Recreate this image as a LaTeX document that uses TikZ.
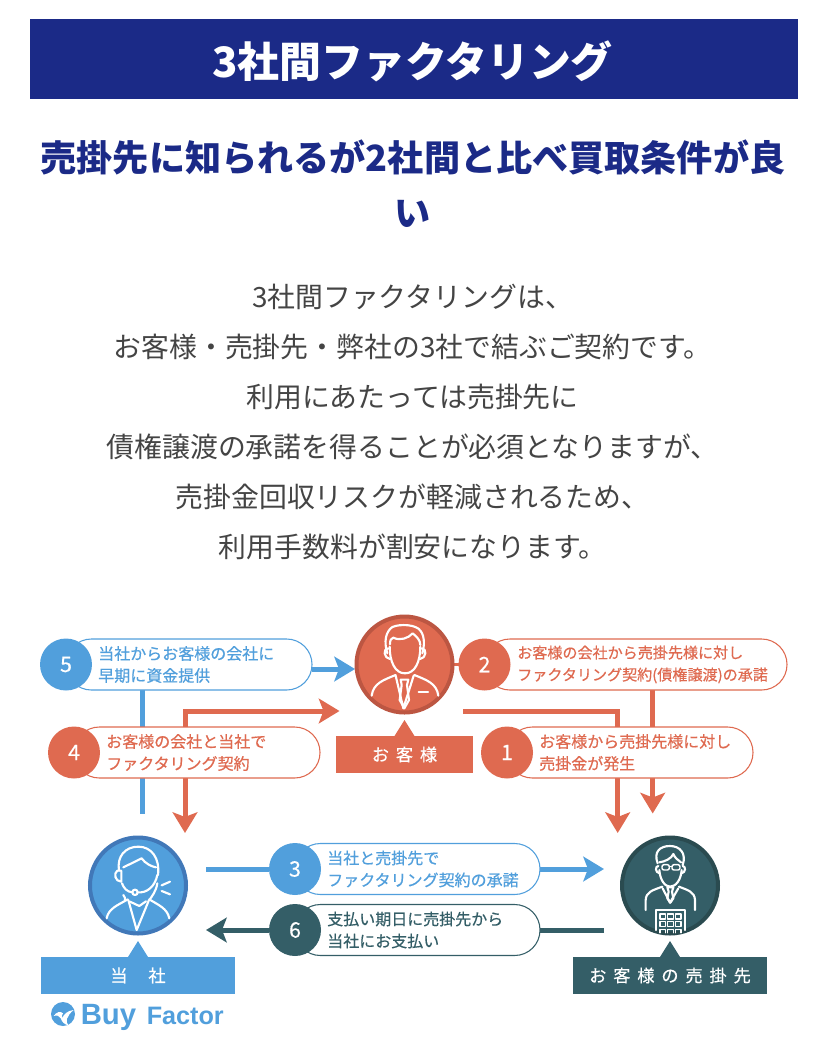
\documentclass[tikz,border=0pt]{standalone}
\usepackage{fontspec}
\setmainfont{Noto Sans CJK JP}
\newfontfamily\medfont[FakeBold=0.5]{Noto Sans CJK JP}
\newfontfamily\labfont[LetterSpace=40,FakeBold=0.4]{Noto Sans CJK JP}
\newfontfamily\logofont{Liberation Sans}
\usetikzlibrary{arrows.meta,backgrounds}
\definecolor{navy}{HTML}{1B2A87}
\definecolor{bodygray}{HTML}{444444}
\definecolor{cblue}{HTML}{519FDC}
\definecolor{cbluedk}{HTML}{4178B8}
\definecolor{cred}{HTML}{DF6A50}
\definecolor{creddk}{HTML}{BC5642}
\definecolor{cteal}{HTML}{345E67}
\definecolor{ctealdk}{HTML}{2A4B50}
\tikzset{
  pillshape/.style={draw=#1,fill=white,line width=0.8pt,rounded corners=19pt,inner sep=0pt,outer sep=0pt,minimum height=38.25pt},
  numdisc/.style={circle,fill=#1,text=white,inner sep=0pt,outer sep=0pt,minimum size=39pt,font=\medfont\fontsize{16}{16}\selectfont},
  pilltext/.style={text=#1,anchor=west,align=left,inner sep=0pt,font=\medfont\fontsize{12}{16.5}\selectfont},
  bigdisc/.style={circle,draw=#1,line width=3pt,inner sep=0pt,outer sep=0pt,minimum size=72pt},
  labelbox/.style={fill=#1,text=white,inner sep=0pt,outer sep=0pt,minimum height=27.75pt},
  flow/.style={draw=#1,line width=3.75pt},
  head/.style={-{Stealth[length=15.5pt,width=18.5pt,inset=3.5pt]}},
  icon/.style={draw=white,line width=1.6pt,line cap=round,line join=round},
}
% optional: extra keys; disc x, y, pill right x, colour, number, text x, text
\newcommand\pillitem[8][]{%
  \node[pillshape=#5,minimum width={(#4-#2)*0.75pt}] (p#6) at ({(#2+#4)/2},#3) {};
  \node[numdisc=#5] (c#6) at (#2,#3) {#6};
  \node[pilltext=#5,#1] (t#6) at (#7,#3) {#8};
}
\begin{document}
\begin{tikzpicture}[x=0.75pt,y=-0.75pt]
\useasboundingbox (0,0) rectangle (828,1057);

% header
\node[fill=navy,inner sep=0pt,outer sep=0pt,minimum width=576pt,minimum height=60pt] (title) at (414,59) {};
\node[text=white,inner sep=0pt,font=\fontsize{31.4}{33}\selectfont\bfseries] (titletext) at (412.5,61) {3社間ファクタリング};
\node[text=navy,align=center,inner sep=0pt,font=\fontsize{27.1}{41.25}\selectfont\bfseries] (heading) at (413,184) {売掛先に知られるが2社間と比べ買取条件が良\\い};
\node[text=bodygray,align=center,inner sep=0pt,font=\fontsize{20.9}{37.5}\selectfont] (bodytext) at (412.5,422) {3社間ファクタリングは、\\お客様・売掛先・弊社の3社で結ぶご契約です。\\利用にあたっては売掛先に\\債権譲渡の承諾を得ることが必須となりますが、\\売掛金回収リスクが軽減されるため、\\利用手数料が割安になります。};

% people
\node[bigdisc=creddk,fill=cred] (customer) at (404.5,664.5) {};
\node[bigdisc=cbluedk,fill=cblue] (us) at (138,885.5) {};
\node[bigdisc=ctealdk,fill=cteal] (client) at (670,885.5) {};

% pills
\pillitem{66}{664.5}{312}{cblue}{5}{98}{当社からお客様の会社に\\早期に資金提供}
\pillitem{74}{752.5}{320}{cred}{4}{106}{お客様の会社と当社で\\ファクタリング契約}
\pillitem[font=\medfont\fontsize{11.3}{16.5}\selectfont]{484.5}{664.5}{787}{cred}{2}{517}{お客様の会社から売掛先様に対し\\ファクタリング契約(債権譲渡)の承諾}
\pillitem{507}{752.5}{753}{cred}{1}{539}{お客様から売掛先様に対し\\売掛金が発生}
\pillitem{295}{869}{540}{cblue}{3}{327}{当社と売掛先で\\ファクタリング契約の承諾}
\pillitem{295}{930}{540}{cteal}{6}{327}{支払い期日に売掛先から\\当社にお支払い}

% labels
\node[labelbox=cred,minimum width=102.75pt,font=\labfont\fontsize{12.9}{14}\selectfont] (lcustomer) at (404.5,754.5) {\raisebox{-1pt}{お客様}};
\node[labelbox=cblue,minimum width=145.5pt,font=\medfont\fontsize{13}{14}\selectfont] (lus) at (138,975.5) {\raisebox{-1.2pt}{当\hspace{15.5pt}社}};
\node[labelbox=cteal,minimum width=145.5pt,font=\labfont\fontsize{12.9}{14}\selectfont] (lclient) at (670,975.5) {\raisebox{-1.2pt}{お客様の売掛先}};
\foreach \n/\c/\a in {lcustomer/cred/customer,lus/cblue/us,lclient/cteal/client}{
  \fill[\c] ([xshift=-7.5pt]\a |- \n.north) -- ([yshift=12pt]\a |- \n.north) -- ([xshift=7.5pt]\a |- \n.north) -- cycle;
}

% connector end points
\coordinate (a5) at (355,669);
\coordinate (b5) at (142.5,814);
\coordinate (a4up) at (339.5,711);
\coordinate (a4corner) at (185,711);
\coordinate (a4down) at (185,833);
\coordinate (a1start) at (463,711);
\coordinate (a1corner) at (617.7,711);
\coordinate (a1down) at (617.7,833);
\coordinate (a2down) at (652.7,813.5);
\coordinate (a3start) at (206,869);
\coordinate (a3end) at (604,869);
\coordinate (a6start) at (604,930);
\coordinate (a6end) at (206,930);

\begin{scope}[on background layer]
  \draw[flow=cblue,head] (a5 -| p5.east) -- (a5);
  \draw[flow=cblue] (b5 |- p5.south) -- (b5);
  \draw[flow=cred,head] (a4corner |- p4.north) -- (a4corner) -- (a4up);
  \draw[flow=cred,head] (a4corner |- p4.south) -- (a4down);
  \draw[flow=cred,head] (a1start) -- (a1corner) -- (a1down);
  \draw[flow=cred,head] (a2down |- p2.south) -- (a2down);
  \draw[flow=cred,line width=2.5pt] (customer.east) -- (c2.west);
  \draw[flow=cblue] (a3start) -- (c3.west);
  \draw[flow=cblue,head] (p3.east) -- (a3end);
  \draw[flow=cteal] (a6start) -- (p6.east);
  \draw[flow=cteal,head] (c6.west) -- (a6end);
\end{scope}

% customer icon
\begin{scope}[shift={(345,605)},scale=1/3,icon]
  \draw (127,145) .. controls (116,110) and (122,80) .. (142,66) .. controls (165,56) and (215,58) .. (227,78) .. controls (240,95) and (238,125) .. (232,145);
  \draw (135,118) .. controls (135,105) and (138,100) .. (145,98) .. controls (165,108) and (190,100) .. (203,85) .. controls (215,95) and (226,105) .. (226,120);
  \draw (134,125) .. controls (134,170) and (150,205) .. (180,205) .. controls (210,205) and (226,170) .. (226,125);
  \draw (130,130) .. controls (113,130) and (116,160) .. (135,162);
  \draw (230,130) .. controls (247,130) and (244,160) .. (225,162);
  \draw (80,272) .. controls (85,235) and (115,225) .. (152,210);
  \draw (280,272) .. controls (275,235) and (245,225) .. (208,210);
  \draw (152,212) -- (175,310) -- (206,212);
  \draw (167,224) -- (190,224) -- (186,240) -- (192,285) -- (178,310) -- (164,285) -- (170,240) -- cycle;
  \draw (221,260) -- (249,260);
\end{scope}

% operator icon
\begin{scope}[shift={(80,830)},scale=1/3,icon]
  \draw (117,122) .. controls (110,80) and (135,50) .. (175,50) .. controls (215,50) and (240,85) .. (234,135);
  \draw (130,112) -- (185,85) .. controls (195,100) and (215,110) .. (228,112);
  \draw (126,160) .. controls (132,175) and (140,185) .. (157,187);
  \draw (112,122) .. controls (100,130) and (105,155) .. (124,155) -- (124,122) -- cycle;
  \draw (165,187) circle[radius=8];
  \draw (173,187) .. controls (200,190) and (225,170) .. (232,135);
  \draw (130,195) .. controls (135,200) and (135,205) .. (135,210);
  \draw (232,160) .. controls (228,185) and (215,200) .. (208,210);
  \draw (80,265) .. controls (85,235) and (115,225) .. (143,208);
  \draw (268,265) .. controls (262,235) and (235,225) .. (208,208);
  \draw (145,210) -- (170,300) -- (207,210);
  \draw (150,215) -- (178,228) -- (198,214);
  \draw (245,166) -- (270,155);
  \draw (245,183) -- (270,193);
\end{scope}

% client icon
\begin{scope}[shift={(610,830)},scale=1/3,icon]
  \draw (143,100) .. controls (130,65) and (150,48) .. (180,48) .. controls (210,48) and (230,70) .. (218,105);
  \draw (148,97) .. controls (165,95) and (185,85) .. (190,72) .. controls (195,85) and (205,90) .. (213,97);
  \draw (148,120) .. controls (150,150) and (165,170) .. (180,170) .. controls (197,170) and (213,150) .. (215,120);
  \draw (145,108) .. controls (135,108) and (135,128) .. (149,130);
  \draw (218,108) .. controls (228,108) and (228,128) .. (214,130);
  \draw[line width=1.1pt,rounded corners=1.5pt] (156,104) rectangle (178,120);
  \draw[line width=1.1pt,rounded corners=1.5pt] (186,104) rectangle (210,120);
  \draw[line width=1.1pt] (178,110) -- (186,110);
  \draw (107,240) -- (107,210) .. controls (108,185) and (130,180) .. (157,170);
  \draw (255,240) -- (255,210) .. controls (254,185) and (232,180) .. (207,170);
  \draw (158,175) -- (180,218) -- (205,175);
  \draw (172,172) -- (190,172) -- (186,185) -- (190,205) -- (181,218) -- (172,205) -- (176,185) -- cycle;
  \draw (137,300) -- (137,240) -- (225,240) -- (225,300);
  \foreach \xx in {150,173,196}{
    \foreach \yy in {252,275}{
      \draw[line width=1.2pt] (\xx,\yy) rectangle ++(17,15);
    }
    \draw[line width=1.2pt] (\xx,308) -- (\xx,298) -- ++(17,0) -- ++(0,10);
  }
\end{scope}

% logo
\node[circle,fill=cblue,inner sep=0pt,outer sep=0pt,minimum size=18pt] (logomark) at (63,1014) {};
\begin{scope}[shift={(45,998)},scale=1/3]
  \fill[white] (26,54) .. controls (34,42) and (46,38) .. (54,46) .. controls (50,50) and (50,56) .. (52,60) .. controls (56,50) and (66,38) .. (86,36) .. controls (76,44) and (70,52) .. (66,62) .. controls (64,70) and (66,78) .. (70,82) .. controls (60,80) and (50,72) .. (48,62) .. controls (44,54) and (36,50) .. (26,54) -- cycle;
\end{scope}
\node[text=cblue,anchor=base west,inner sep=0pt,font=\logofont\bfseries\fontsize{22}{23}\selectfont] (logobuy) at (80.5,1024) {Buy};
\node[text=cblue,anchor=base west,inner sep=0pt,font=\logofont\bfseries\fontsize{18.9}{20}\selectfont] (logofactor) at (146.5,1024) {Factor};
\end{tikzpicture}
\end{document}
